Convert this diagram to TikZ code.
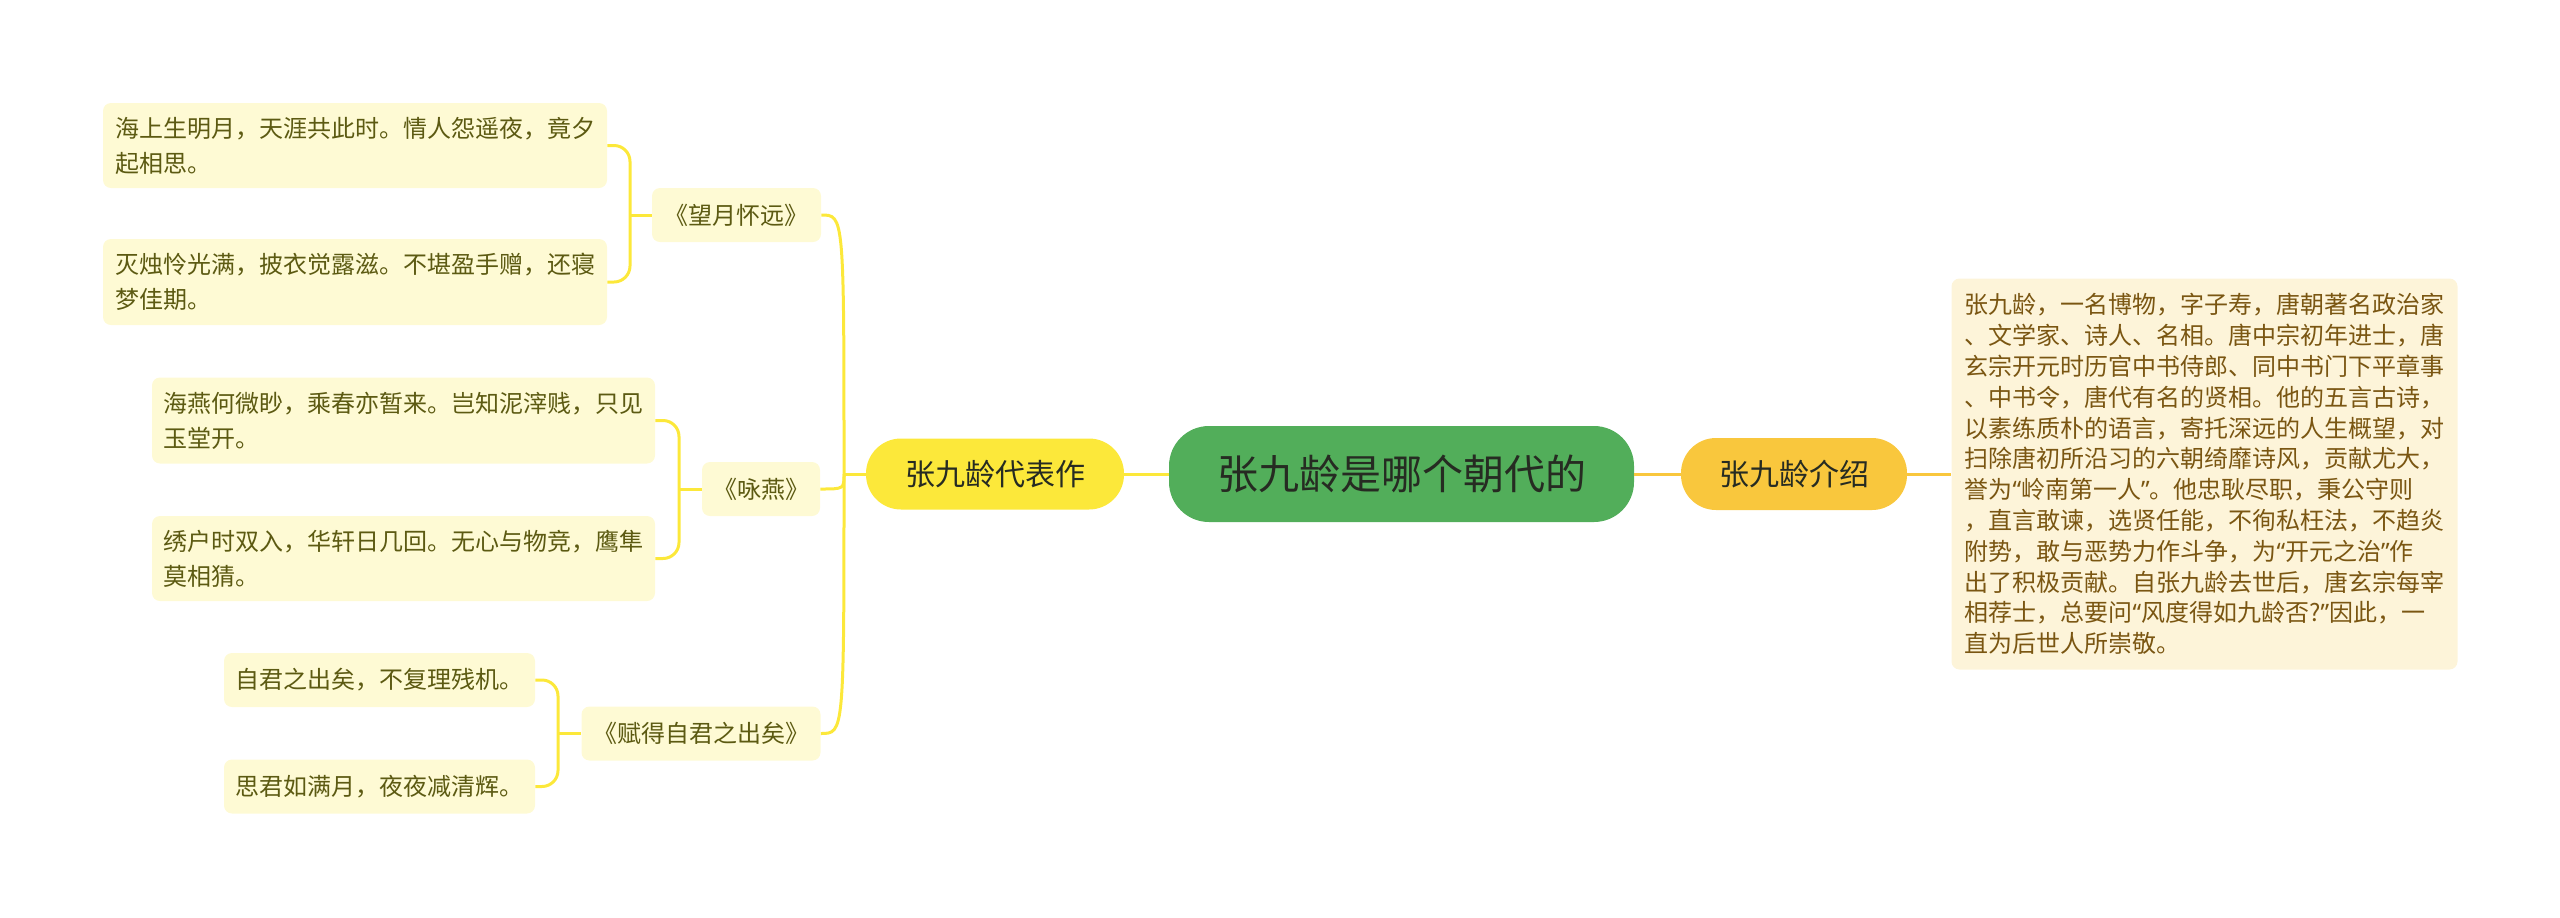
\documentclass[tikz,border=0pt]{standalone}
\usepackage{fontspec}
\setmainfont{Noto Sans CJK SC}
\newfontfamily\latq{Noto Sans}
\newcommand{\qopen}{{\latq “}}
\newcommand{\qclose}{{\latq ”}}
\definecolor{leaffill}{HTML}{FEFAD4}
\definecolor{leaftext}{HTML}{5C5A12}
\definecolor{infofill}{HTML}{FDF4D9}
\definecolor{infotext}{HTML}{7A5612}
\definecolor{yfill}{HTML}{FCE83A}
\definecolor{ofill}{HTML}{F9C73D}
\definecolor{gfill}{HTML}{52AE5A}
\definecolor{darktext}{HTML}{262B22}
\begin{document}
\begin{tikzpicture}[x=0.5pt,y=-0.5pt,
  leaf/.style={fill=leaffill,text=leaftext,rounded corners=4pt,inner sep=0pt,align=left,
    font=\fontsize{12pt}{17.5pt}\selectfont},
  sub/.style={fill=leaffill,text=leaftext,rounded corners=4pt,inner sep=0pt,
    minimum height=27pt,font=\fontsize{12pt}{15pt}\selectfont},
  mainy/.style={fill=yfill,text=darktext,rounded corners=17.5pt,inner sep=0pt,
    minimum width=129pt,minimum height=35.5pt,font=\fontsize{15pt}{18pt}\selectfont},
  maino/.style={fill=ofill,text=darktext,rounded corners=17.5pt,inner sep=0pt,
    minimum width=113pt,minimum height=36pt,font=\fontsize{15pt}{18pt}\selectfont},
  yline/.style={draw=yfill,line width=1.5pt},
  oline/.style={draw=ofill,line width=1.5pt}]
\useasboundingbox (0,0) rectangle (2560,917);

% center
\node[fill=gfill,text=darktext,rounded corners=20pt,inner sep=0pt,minimum width=232.5pt,
  minimum height=48pt,font=\fontsize{20.5pt}{24pt}\selectfont] (c) at (1401.5,474) {张九龄是哪个朝代的};

% main topics
\node[mainy] (dbz) at (995,474) {张九龄代表作};
\node[maino] (js) at (1794,474) {张九龄介绍};

% info box
\node[fill=infofill,text=infotext,rounded corners=4pt,inner sep=0pt,minimum width=253pt,
  minimum height=195.5pt,text width=240pt,align=left,font=\fontsize{12pt}{15.4pt}\selectfont]
  (rt) at (2204.5,474) {张九龄，一名博物，字子寿，唐朝著名政治家\\
、文学家、诗人、名相。唐中宗初年进士，唐\\
玄宗开元时历官中书侍郎、同中书门下平章事\\
、中书令，唐代有名的贤相。他的五言古诗，\\
以素练质朴的语言，寄托深远的人生概望，对\\
扫除唐初所沿习的六朝绮靡诗风，贡献尤大，\\
誉为\qopen 岭南第一人\qclose 。他忠耿尽职，秉公守则\\
，直言敢谏，选贤任能，不徇私枉法，不趋炎\\
附势，敢与恶势力作斗争，为\qopen 开元之治\qclose 作\\
出了积极贡献。自张九龄去世后，唐玄宗每宰\\
相荐士，总要问\qopen 风度得如九龄否?\qclose 因此，一\\
直为后世人所崇敬。};

% subtopics
\node[sub,minimum width=84.5pt] (s1) at (736.5,215) {《望月怀远》};
\node[sub,minimum width=59pt] (s2) at (761,489) {《咏燕》};
\node[sub,minimum width=119.5pt] (s3) at (701,733.5) {《赋得自君之出矣》};

% leaves
\node[leaf,minimum width=252pt,minimum height=42.5pt,text width=240pt] (l1) at (355,145.5)
  {海上生明月，天涯共此时。情人怨遥夜，竟夕\\起相思。};
\node[leaf,minimum width=252pt,minimum height=43pt,text width=240pt] (l2) at (355,282)
  {灭烛怜光满，披衣觉露滋。不堪盈手赠，还寝\\梦佳期。};
\node[leaf,minimum width=251.5pt,minimum height=43pt,text width=240pt] (l3) at (403.5,420.5)
  {海燕何微眇，乘春亦暂来。岂知泥滓贱，只见\\玉堂开。};
\node[leaf,minimum width=251.5pt,minimum height=42.5pt,text width=240pt] (l4) at (403.5,558.5)
  {绣户时双入，华轩日几回。无心与物竞，鹰隼\\莫相猜。};
\node[leaf,minimum width=155.5pt,minimum height=27pt,text width=144pt] (l5) at (379.5,680)
  {自君之出矣，不复理残机。};
\node[leaf,minimum width=155.5pt,minimum height=27pt,text width=144pt] (l6) at (379.5,786.5)
  {思君如满月，夜夜减清辉。};

% connectors centre / right
\draw[yline] (c.west) -- (dbz.east);
\draw[oline] (c.east) -- (js.west);
\draw[oline] (js.east) -- (rt.west);

% trunk on the left
\coordinate (jL) at (844,474);
\draw[yline] (dbz.west) -- (jL);
\foreach \s in {s1,s2,s3}
  \draw[yline] (jL) .. controls (jL |- \s.east) .. (\s.east);

% brackets
\coordinate (ja) at (630,215);
\draw[yline] (s1.west) -- (ja);
\draw[yline,rounded corners=8pt] (l1.east) -- (ja |- l1.east) -- (ja |- l2.east) -- (l2.east);
\coordinate (jb) at (679,489);
\draw[yline] (s2.west) -- (jb);
\draw[yline,rounded corners=8pt] (l3.east) -- (jb |- l3.east) -- (jb |- l4.east) -- (l4.east);
\coordinate (jc) at (558,733.5);
\draw[yline] (s3.west) -- (jc);
\draw[yline,rounded corners=8pt] (l5.east) -- (jc |- l5.east) -- (jc |- l6.east) -- (l6.east);
\end{tikzpicture}
\end{document}
